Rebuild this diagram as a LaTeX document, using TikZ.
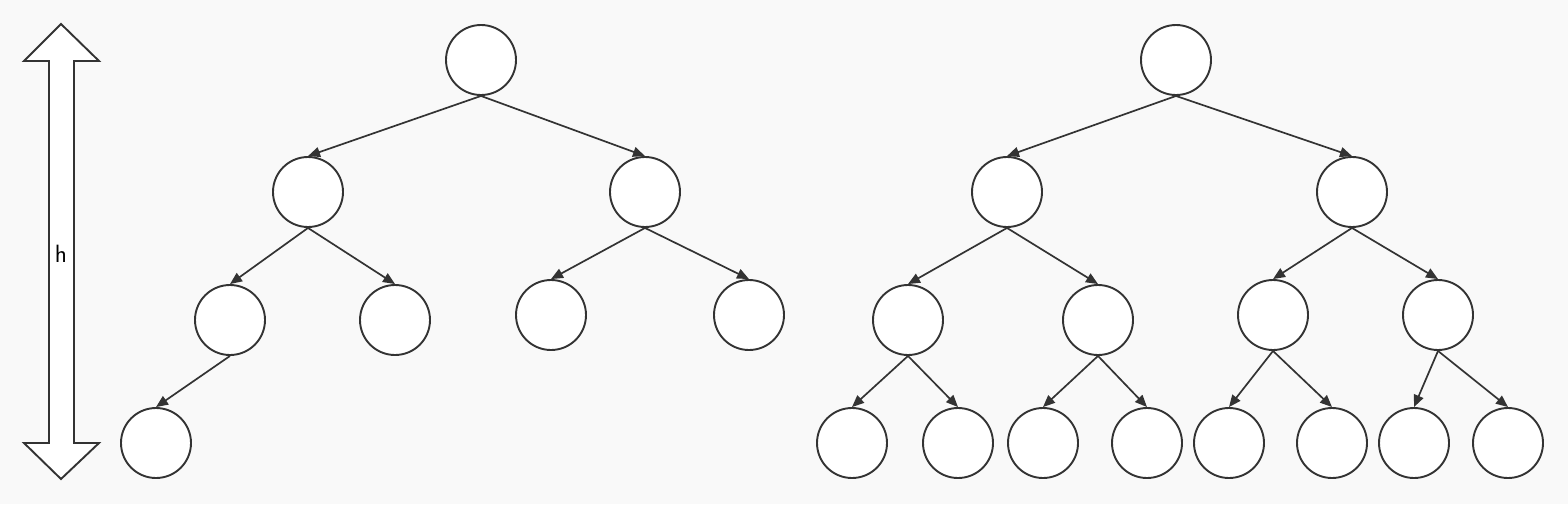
\documentclass[tikz,border=0pt]{standalone}
\usepackage{amsmath}
\usetikzlibrary{arrows.meta}
\definecolor{ink}{HTML}{333333}
\definecolor{paper}{HTML}{F9F9F9}

\begin{document}
\begin{tikzpicture}[x=1pt,y=-1pt,
    vertex/.style={draw=ink, line width=1.9pt, fill=white, circle,
        minimum size=70pt, inner sep=0pt},
    edge/.style={draw=ink, line width=1.7pt, -{Triangle[length=12pt,width=10pt]}}]
    \fill[paper] (0,0) rectangle (1568,504);
    \useasboundingbox (0,0) rectangle (1568,504);

% height arrow
\draw[ink, line width=1.9pt, fill=white] (61,24) -- (99,61) -- (74,61) -- (74,443) -- (99,443) -- (61,479)
    -- (24,443) -- (49,443) -- (49,61) -- (24,61) -- cycle;
\node[font=\sffamily\fontsize{25}{25}\selectfont] (h) at (61,254) {h};

% left tree
\node[vertex] (a) at (481,60) {};
\node[vertex] (al) at (308,192) {};
\node[vertex] (ar) at (645,192) {};
\node[vertex] (all) at (230,320) {};
\node[vertex] (alr) at (395,320) {};
\node[vertex] (arl) at (551,315) {};
\node[vertex] (arr) at (749,315) {};
\node[vertex] (alll) at (156,443) {};

\draw[edge] (a.south) -- (al.north);
\draw[edge] (a.south) -- (ar.north);
\draw[edge] (al.south) -- (all.north);
\draw[edge] (al.south) -- (alr.north);
\draw[edge] (ar.south) -- (arl.north);
\draw[edge] (ar.south) -- (arr.north);
\draw[edge] (all.south) -- (alll.north);

% right tree
\node[vertex] (b) at (1176,60) {};
\node[vertex] (bl) at (1007,192) {};
\node[vertex] (br) at (1352,192) {};
\node[vertex] (bll) at (908,320) {};
\node[vertex] (blr) at (1098,320) {};
\node[vertex] (brl) at (1273,315) {};
\node[vertex] (brr) at (1438,315) {};
\node[vertex] (blll) at (852,443) {};
\node[vertex] (bllr) at (958,443) {};
\node[vertex] (blrl) at (1043,443) {};
\node[vertex] (blrr) at (1147,443) {};
\node[vertex] (brll) at (1229,443) {};
\node[vertex] (brlr) at (1332,443) {};
\node[vertex] (brrl) at (1414,443) {};
\node[vertex] (brrr) at (1508,443) {};

\draw[edge] (b.south) -- (bl.north);
\draw[edge] (b.south) -- (br.north);
\draw[edge] (bl.south) -- (bll.north);
\draw[edge] (bl.south) -- (blr.north);
\draw[edge] (br.south) -- (brl.north);
\draw[edge] (br.south) -- (brr.north);
\draw[edge] (bll.south) -- (blll.north);
\draw[edge] (bll.south) -- (bllr.north);
\draw[edge] (blr.south) -- (blrl.north);
\draw[edge] (blr.south) -- (blrr.north);
\draw[edge] (brl.south) -- (brll.north);
\draw[edge] (brl.south) -- (brlr.north);
\draw[edge] (brr.south) -- (brrl.north);
\draw[edge] (brr.south) -- (brrr.north);

\end{tikzpicture}
\end{document}
